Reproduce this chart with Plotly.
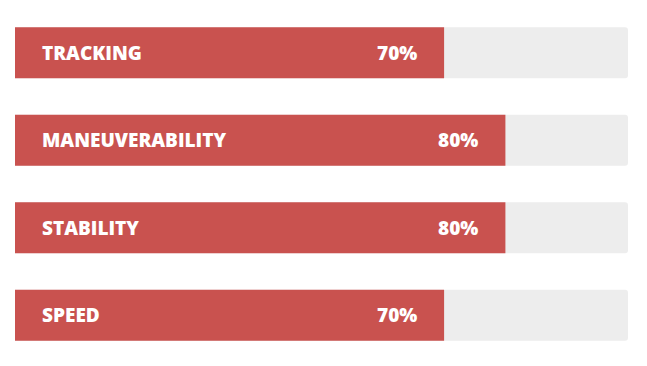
import plotly.graph_objects as go

categories = ["TRACKING", "MANEUVERABILITY", "STABILITY", "SPEED"]
values = [70, 80, 80, 70]
max_value = 100
value_labels = [f"{v}%" for v in values]

RED = "#c9524f"
GREY = "#ededed"
FONT = "Open Sans"

pos = list(range(len(categories)))

fig = go.Figure()
fig.add_trace(go.Bar(
    y=pos, x=[max_value] * len(categories), orientation="h",
    marker=dict(color=GREY, line=dict(width=0)), width=0.583,
    hoverinfo="skip", showlegend=False,
))
fig.add_trace(go.Bar(
    y=pos, x=values, orientation="h",
    marker=dict(color=RED, line=dict(width=0)), width=0.583,
    hovertext=categories, showlegend=False,
))

for i, (c, v, t) in enumerate(zip(categories, values, value_labels)):
    fig.add_annotation(x=0, y=i, xref="x", yref="y", text=c,
                       xanchor="left", xshift=25, showarrow=False,
                       font=dict(family=FONT, size=19, color="white", weight=800))
    fig.add_annotation(x=v, y=i, xref="x", yref="y", text=t,
                       xanchor="right", xshift=-25, showarrow=False,
                       font=dict(family=FONT, size=19, color="white", weight=800))

fig.update_layout(
    width=647, height=366,
    margin=dict(l=7, r=27, t=1, b=15),
    barmode="overlay", barcornerradius=3,
    paper_bgcolor="white", plot_bgcolor="white",
    xaxis=dict(range=[0, max_value], visible=False, fixedrange=True),
    yaxis=dict(range=[3.5, -0.5], visible=False, fixedrange=True),
)

fig.write_html("out.html")
